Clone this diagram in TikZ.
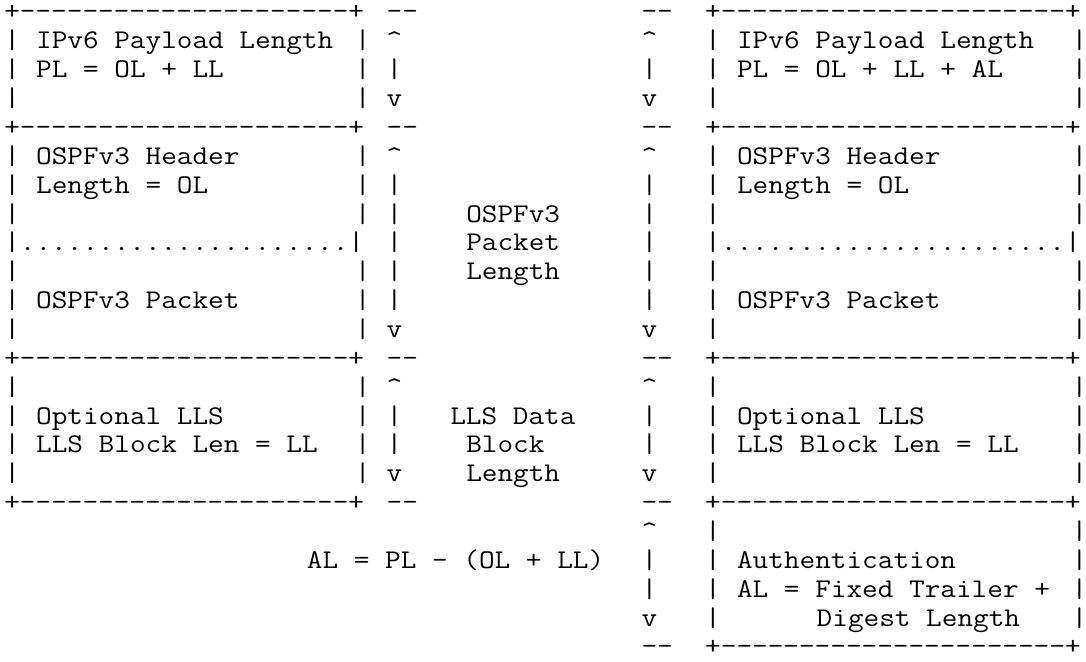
\documentclass[tikz,border=0pt]{standalone}
\usepackage{graphicx}
\tikzset{
  tt/.style={anchor=base west, inner sep=0pt, outer sep=0pt, font=\fontsize{27}{29}\selectfont\ttfamily},
}
\newcommand\tx[4]{\node[tt] (#1) at (#2,#3) {\scalebox{1.125}[1]{#4}};}
% nodes that end at the right margin: box trimmed a little (the ink is not cut)
\newcommand\txr[4]{\node[tt] (#1) at (#2,#3) {\makebox[\dimexpr\width-4pt\relax][l]{\scalebox{1.125}[1]{#4}}};}
\newcommand\rl[1]{+\foreach\i in {1,...,#1}{-\kern0pt}+}
\newcommand\dd{-\kern0pt-}
\newcommand\up{\textasciicircum}
\newcommand\dts[1]{|\foreach\i in {1,...,#1}{.}|}
\newcommand\lbars[1]{\tx{la#1}{0}{#1}{|}\tx{lb#1}{22}{#1}{|}}
\newcommand\rbars[1]{\tx{ra#1}{44}{#1}{|}\txr{rb#1}{67}{#1}{|}}
\newcommand\sepline[1]{\tx{s#1a}{0}{#1}{\rl{21}}\tx{s#1b}{24}{#1}{\dd}\tx{s#1c}{40}{#1}{\dd}\txr{s#1d}{44}{#1}{\rl{22}}}
\begin{document}
\begin{tikzpicture}
\useasboundingbox (0pt,0pt) rectangle (1086pt,-661pt);
\begin{scope}[shift={(4.3pt,8.86pt)}, x=15.93pt, y=-28.86pt]
% row 1
\sepline{1}
% row 2
\lbars{2}\rbars{2}
\tx{t2a}{2}{2}{IPv6 Payload Length}
\tx{t2b}{24}{2}{\up}
\tx{t2c}{40}{2}{\up}
\tx{t2d}{46}{2}{IPv6 Payload Length}
% row 3
\lbars{3}\rbars{3}
\tx{t3a}{2}{3}{PL = OL + LL}
\tx{t3b}{24}{3}{|}
\tx{t3c}{40}{3}{|}
\tx{t3d}{46}{3}{PL = OL + LL + AL}
% row 4
\lbars{4}\rbars{4}
\tx{t4b}{24}{4}{v}
\tx{t4c}{40}{4}{v}
% row 5
\sepline{5}
% row 6
\lbars{6}\rbars{6}
\tx{t6a}{2}{6}{OSPFv3 Header}
\tx{t6b}{24}{6}{\up}
\tx{t6c}{40}{6}{\up}
\tx{t6d}{46}{6}{OSPFv3 Header}
% row 7
\lbars{7}\rbars{7}
\tx{t7a}{2}{7}{Length = OL}
\tx{t7b}{24}{7}{|}
\tx{t7c}{40}{7}{|}
\tx{t7d}{46}{7}{Length = OL}
% row 8
\lbars{8}\rbars{8}
\tx{t8b}{24}{8}{|}
\tx{t8m}{29}{8}{OSPFv3}
\tx{t8c}{40}{8}{|}
% row 9
\tx{t9a}{0}{9}{\dts{21}}
\tx{t9b}{24}{9}{|}
\tx{t9m}{29}{9}{Packet}
\tx{t9c}{40}{9}{|}
\txr{t9d}{44}{9}{\dts{22}}
% row 10
\lbars{10}\rbars{10}
\tx{t10b}{24}{10}{|}
\tx{t10m}{29}{10}{Length}
\tx{t10c}{40}{10}{|}
% row 11
\lbars{11}\rbars{11}
\tx{t11a}{2}{11}{OSPFv3 Packet}
\tx{t11b}{24}{11}{|}
\tx{t11c}{40}{11}{|}
\tx{t11d}{46}{11}{OSPFv3 Packet}
% row 12
\lbars{12}\rbars{12}
\tx{t12b}{24}{12}{v}
\tx{t12c}{40}{12}{v}
% row 13
\sepline{13}
% row 14
\lbars{14}\rbars{14}
\tx{t14b}{24}{14}{\up}
\tx{t14c}{40}{14}{\up}
% row 15
\lbars{15}\rbars{15}
\tx{t15a}{2}{15}{Optional LLS}
\tx{t15b}{24}{15}{|}
\tx{t15m}{28}{15}{LLS Data}
\tx{t15c}{40}{15}{|}
\tx{t15d}{46}{15}{Optional LLS}
% row 16
\lbars{16}\rbars{16}
\tx{t16a}{2}{16}{LLS Block Len = LL}
\tx{t16b}{24}{16}{|}
\tx{t16m}{29}{16}{Block}
\tx{t16c}{40}{16}{|}
\tx{t16d}{46}{16}{LLS Block Len = LL}
% row 17
\lbars{17}\rbars{17}
\tx{t17b}{24}{17}{v}
\tx{t17m}{29}{17}{Length}
\tx{t17c}{40}{17}{v}
% row 18
\sepline{18}
% row 19
\rbars{19}
\tx{t19c}{40}{19}{\up}
% row 20
\rbars{20}
\tx{t20m}{19}{20}{AL = PL - (OL + LL)}
\tx{t20c}{40}{20}{|}
\tx{t20d}{46}{20}{Authentication}
% row 21
\rbars{21}
\tx{t21c}{40}{21}{|}
\tx{t21d}{46}{21}{AL = Fixed Trailer +}
% row 22
\rbars{22}
\tx{t22c}{40}{22}{v}
\tx{t22d}{51}{22}{Digest Length}
% row 23
\tx{t23c}{40}{23}{\dd}
\txr{t23d}{44}{23}{\rl{22}}
\end{scope}
\end{tikzpicture}
\end{document}
